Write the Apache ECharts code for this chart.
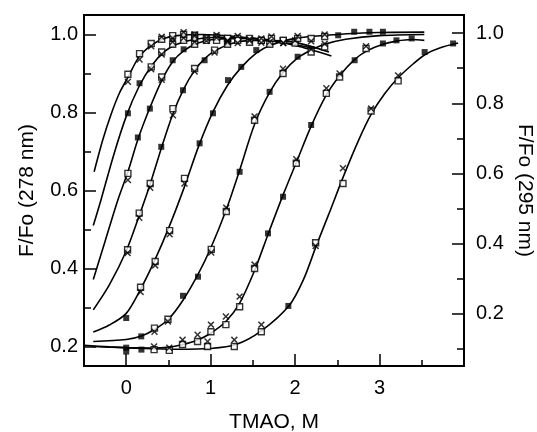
<!DOCTYPE html>
<html>
<head>
<meta charset="utf-8">
<script src="https://cdn.jsdelivr.net/npm/echarts@6/dist/echarts.min.js"></script>
<style>
html, body { margin: 0; padding: 0; background: #fff; }
#chart { width: 537px; height: 432px; }
</style>
</head>
<body>
<div id="chart"></div>
<script>
// fitted curves: [TMAO (M), F/Fo at 278 nm]
const fitA = [[-0.38,0.648],[-0.28,0.728],[-0.18,0.795],[-0.08,0.85],[0.02,0.89],[0.15,0.942],[0.3,0.973],[0.45,0.99],[0.6,0.997],[0.9,1.0],[1.3,0.995],[1.6,0.988],[1.9,0.978]];
const fitB = [[-0.39,0.51],[-0.3,0.575],[-0.15,0.69],[0.0,0.79],[0.15,0.866],[0.3,0.92],[0.45,0.956],[0.6,0.975],[0.8,0.987],[1.1,0.993],[1.5,0.99],[1.9,0.978],[2.2,0.965]];
const fitC = [[-0.39,0.372],[-0.25,0.47],[-0.1,0.575],[0.02,0.648],[0.14,0.732],[0.28,0.812],[0.42,0.882],[0.55,0.93],[0.68,0.958],[0.85,0.978],[1.05,0.988],[1.5,0.99],[2.0,0.972],[2.43,0.945]];
const fitD = [[-0.39,0.294],[-0.2,0.358],[0.0,0.445],[0.15,0.533],[0.28,0.614],[0.415,0.708],[0.55,0.795],[0.68,0.86],[0.81,0.908],[0.93,0.938],[1.05,0.958],[1.25,0.977],[1.5,0.985],[1.9,0.983],[2.4,0.955]];
const fitE = [[-0.39,0.237],[-0.2,0.255],[0,0.285],[0.17,0.347],[0.34,0.422],[0.51,0.508],[0.69,0.61],[0.86,0.715],[1.03,0.803],[1.2,0.87],[1.36,0.915],[1.54,0.952],[1.7,0.972],[2.0,0.99],[2.5,1.0],[3.0,1.005],[3.53,1.006]];
const fitF = [[-0.39,0.213],[0,0.218],[0.18,0.227],[0.33,0.243],[0.5,0.27],[0.67,0.318],[0.85,0.385],[1.0,0.452],[1.18,0.548],[1.34,0.65],[1.52,0.77],[1.7,0.852],[1.86,0.903],[2.03,0.94],[2.19,0.96],[2.35,0.975],[2.6,0.988],[3.0,0.997],[3.53,1.0]];
const fitG = [[-0.4,0.2],[0,0.197],[0.3,0.196],[0.5,0.198],[0.67,0.205],[0.84,0.216],[1.0,0.234],[1.18,0.264],[1.34,0.31],[1.52,0.395],[1.68,0.488],[1.86,0.59],[2.02,0.675],[2.19,0.765],[2.37,0.845],[2.53,0.895],[2.7,0.935],[2.85,0.958],[3.04,0.975],[3.2,0.983],[3.38,0.987],[3.53,0.985]];
const fitH = [[-0.5,0.203],[-0.2,0.199],[0.2,0.195],[0.6,0.193],[1.0,0.195],[1.3,0.205],[1.6,0.24],[1.93,0.305],[2.1,0.372],[2.25,0.458],[2.4,0.54],[2.57,0.635],[2.75,0.728],[2.9,0.795],[3.06,0.848],[3.22,0.889],[3.4,0.925],[3.55,0.95],[3.72,0.966],[3.93,0.978]];

// measured points
const openSquares = [
  [0.02,0.898],[0.158,0.951],[0.296,0.977],[0.42,0.988],[0.55,0.997],[0.68,1.0],[0.81,0.998],
  [0.296,0.917],[0.42,0.955],[0.55,0.975],[0.68,0.985],[0.81,0.99],[0.95,0.99],[1.07,0.993],[1.2,0.99],
  [0.02,0.644],[0.42,0.891],[0.81,0.975],[0.95,0.985],[1.07,0.985],[1.2,0.99],[1.32,0.99],[1.46,0.99],[1.6,0.985],
  [0.016,0.448],[0.154,0.542],[0.284,0.618],[0.553,0.81],[0.81,0.913],[1.046,0.96],[1.2,0.975],[1.32,0.985],[1.46,0.98],[1.6,0.985],[1.72,0.99],[1.86,0.985],[2.0,0.978],
  [0.17,0.352],[0.343,0.418],[0.514,0.497],[0.69,0.631],[1.7,0.975],[1.86,0.985],[2.03,0.99],[2.19,0.99],[2.35,0.995],
  [0.335,0.247],[0.494,0.27],[1.007,0.449],[1.185,0.546],[1.52,0.78],[1.857,0.9],[2.19,0.955],[2.35,0.968],
  [0.667,0.205],[0.845,0.213],[1.003,0.238],[1.18,0.256],[1.343,0.302],[1.52,0.40],[2.014,0.67],[2.37,0.849],[2.527,0.891],[2.84,0.964],
  [0.33,0.192],[0.51,0.19],[0.963,0.2],[1.28,0.2],[1.6,0.238],[2.243,0.466],[2.567,0.618],[2.9,0.804],[3.22,0.881]
];
const crosses = [
  [0.02,0.879],[0.158,0.936],[0.296,0.97],[0.42,0.994],[0.55,0.99],[0.68,1.006],[0.81,1.0],
  [0.296,0.911],[0.42,0.949],[0.55,0.981],[0.68,0.991],[0.81,0.996],[0.95,0.984],[1.07,0.999],[1.2,0.984],
  [0.02,0.627],[0.42,0.884],[0.81,0.981],[0.95,0.991],[1.07,0.992],[1.2,0.984],[1.32,0.996],[1.46,0.984],[1.6,0.99],
  [0.016,0.44],[0.154,0.53],[0.284,0.607],[0.553,0.793],[0.81,0.905],[1.046,0.954],[1.2,0.98],[1.32,0.978],[1.46,0.988],[1.6,0.979],[1.72,0.995],[1.86,0.978],[2.0,0.985],
  [0.17,0.34],[0.343,0.408],[0.514,0.488],[0.69,0.618],[1.7,0.981],[1.86,0.978],[2.03,0.996],[2.19,0.983],[2.35,1.0],
  [0.335,0.238],[0.494,0.264],[1.007,0.441],[1.185,0.556],[1.52,0.79],[1.857,0.912],[2.19,0.962],[2.35,0.976],
  [0.667,0.217],[0.845,0.23],[1.003,0.256],[1.18,0.277],[1.343,0.328],[1.52,0.41],[2.014,0.68],[2.37,0.862],[2.527,0.9],[2.84,0.97],
  [0.33,0.2],[0.51,0.197],[0.963,0.213],[1.28,0.217],[1.6,0.256],[2.243,0.458],[2.567,0.657],[2.9,0.81],[3.22,0.895]
];
const solidSquares = [
  [0.02,0.798],[0.158,0.875],
  [0.138,0.736],[0.28,0.81],[0.55,0.934],[0.68,0.962],
  [0.415,0.712],[0.672,0.857],[0.928,0.934],
  [0.0,0.273],[0.869,0.721],[1.027,0.798],[1.205,0.883],[1.362,0.917],[1.54,0.96],[2.51,0.998],[2.7,1.007],[2.88,1.007],[3.04,1.007],
  [0.178,0.226],[0.672,0.33],[0.85,0.379],[1.343,0.648],[1.698,0.853],[2.03,0.943],
  [1.679,0.49],[1.857,0.584],[2.19,0.768],[2.705,0.934],[3.04,0.977],[3.2,0.985],[3.38,0.99],
  [0.0,0.197],[0.0,0.187],[0.18,0.192],[1.92,0.304],[3.534,0.955],[3.871,0.977]
];

// axis ticks
const xMajor = [0, 1, 2, 3];
const xMinor = [0.5, 1.5, 2.5, 3.5];
const leftMajor = [0.2, 0.4, 0.6, 0.8, 1.0];
const leftMinor = [0.3, 0.5, 0.7, 0.9];
const rightMajor = [0.2, 0.4, 0.6, 0.8, 1.0];
const rightMinor = [0.1, 0.3, 0.5, 0.7, 0.9];

const FONT = '"Liberation Sans", Arial, sans-serif';
const black = '#000';

function minorAxis(base, ticks, len) {
    return Object.assign({
        type: 'value',
        axisLine: {show: false, onZero: false},
        axisLabel: {show: false},
        splitLine: {show: false},
        axisTick: {inside: true, length: len, customValues: ticks, lineStyle: {color: black, width: 1.5}}
    }, base);
}

function mainAxis(base, major, name, nameGap, margin, fmt) {
    return Object.assign({
        type: 'value',
        name: name,
        nameLocation: 'middle',
        nameGap: nameGap,
        nameMoveOverlap: false,
        nameTextStyle: {color: black, fontSize: 21, fontFamily: FONT},
        axisLine: {onZero: false, lineStyle: {color: black, width: 2}},
        axisTick: {inside: true, length: 12, customValues: major, lineStyle: {color: black, width: 1.5}},
        axisLabel: {customValues: major, margin: margin, color: black, fontSize: 20, fontFamily: FONT, formatter: fmt},
        splitLine: {show: false}
    }, base);
}

const one = v => v.toFixed(1);
const whole = v => String(Math.round(v));

const chart = echarts.init(document.getElementById('chart'), null, {renderer: 'canvas'});

const lineSeries = [fitA, fitB, fitC, fitD, fitE, fitF, fitG, fitH].map(d => ({
    type: 'line',
    data: d,
    smooth: 0.3,
    showSymbol: false,
    silent: true,
    lineStyle: {color: black, width: 1.6},
    z: 2
}));

chart.setOption({
    animation: false,
    grid: {
        left: 84, right: 73, top: 15, bottom: 66,
        outerBoundsMode: 'none', containLabel: false,
        show: true, borderColor: black, borderWidth: 2, backgroundColor: 'transparent'
    },
    xAxis: [
        mainAxis({min: -0.5, max: 4, position: 'bottom'}, xMajor, 'TMAO, M', 46, 12, whole),
        minorAxis({min: -0.5, max: 4, position: 'bottom'}, xMinor, 6)
    ],
    yAxis: [
        mainAxis({min: 0.15, max: 1.05, position: 'left'}, leftMajor, 'F/Fo (278 nm)', 46, 6, one),
        mainAxis({min: 0.05, max: 1.052, position: 'right', nameRotate: -90}, rightMajor, 'F/Fo (295 nm)', 50, 12, one),
        minorAxis({min: 0.15, max: 1.05, position: 'left'}, leftMinor, 7),
        minorAxis({min: 0.05, max: 1.052, position: 'right'}, rightMinor, 7)
    ],
    series: lineSeries.concat([
        {
            type: 'scatter', data: openSquares, symbol: 'rect', symbolSize: 6, silent: true, z: 3,
            itemStyle: {color: '#fff', borderColor: black, borderWidth: 1.4}
        },
        {
            type: 'scatter', data: crosses, silent: true, z: 4, symbolSize: 7,
            symbol: 'path://M0,1.5L1.5,0L5,3.5L8.5,0L10,1.5L6.5,5L10,8.5L8.5,10L5,6.5L1.5,10L0,8.5L3.5,5Z',
            itemStyle: {color: black}
        },
        {
            type: 'scatter', data: solidSquares, symbol: 'rect', symbolSize: 6, silent: true, z: 4,
            itemStyle: {color: black}
        }
    ])
});
</script>
</body>
</html>
